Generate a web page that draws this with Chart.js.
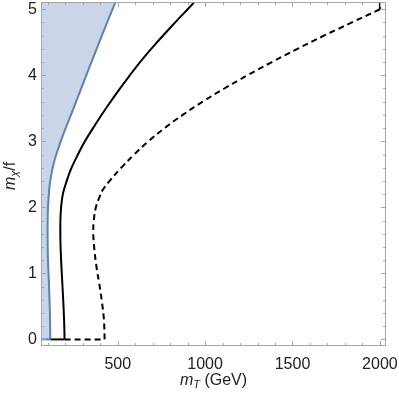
<!DOCTYPE html>
<html><head><meta charset="utf-8">
<script src="https://cdn.jsdelivr.net/npm/chart.js@4"></script>
<style>html,body{margin:0;padding:0;background:#fff;overflow:hidden}#wrap{width:399px;height:395px}</style>
</head><body><div id="wrap"><canvas id="c" width="399" height="395"></canvas></div>
<script>
const X_TICKS = [500, 1000, 1500, 2000];
const Y_TICKS = [0, 1, 2, 3, 4, 5];

const BLUE_X = [114, 112, 107, 101, 99, 99, 102, 109, 120, 137, 161, 188, 247, 320, 394, 470, 504];
const BLUE_Y = [0, 0.4, 0.8, 1.2, 1.5, 1.8, 2.05, 2.3, 2.5, 2.7, 2.9, 3.1, 3.5, 4.0, 4.5, 5.0, 5.2];

const SOLID_X = [196, 193, 188, 182, 176, 172, 172, 176, 186, 208, 236, 272, 312, 371, 433, 499, 569, 643, 725, 811, 900, 972];
const SOLID_Y = [0, 0.3, 0.6, 0.9, 1.2, 1.5, 1.8, 2.0, 2.2, 2.4, 2.6, 2.8, 3.0, 3.25, 3.5, 3.75, 4.0, 4.25, 4.5, 4.75, 5.0, 5.2];

const DASHED_X = [425, 421, 410, 394, 380, 367, 360, 363, 375, 395, 416, 454, 520, 594, 676, 768, 872, 986, 1110, 1242, 1382, 1528, 1680, 1840, 2000, 2000];
const DASHED_Y = [0, 0.3, 0.56, 0.85, 1.07, 1.35, 1.6, 1.8, 2.0, 2.15, 2.27, 2.4, 2.6, 2.8, 3.0, 3.2, 3.4, 3.6, 3.8, 4.0, 4.2, 4.4, 4.6, 4.8, 5.0, 5.2];

const X_MIN = 61, X_MAX = 2035, Y_MIN = -0.1, Y_MAX = 5.11;

const pts = (xs, ys) => xs.map((x, i) => ({x, y: ys[i]}));
const BLUE = '#5E81B5';
const FONT = '"Liberation Sans", Arial, sans-serif';

const fillPlugin = {
  id: 'regionFill',
  beforeDatasetsDraw(chart) {
    const {ctx, chartArea: a} = chart;
    const xs = chart.scales.x, ys = chart.scales.y;
    ctx.save();
    ctx.beginPath(); ctx.rect(a.left, a.top, a.right - a.left, a.bottom - a.top); ctx.clip();
    ctx.beginPath();
    ctx.moveTo(xs.getPixelForValue(X_MIN - 50), ys.getPixelForValue(0));
    BLUE_X.forEach((x, i) => ctx.lineTo(xs.getPixelForValue(x), ys.getPixelForValue(BLUE_Y[i])));
    ctx.lineTo(xs.getPixelForValue(X_MIN - 50), ys.getPixelForValue(BLUE_Y[BLUE_Y.length - 1]));
    ctx.closePath();
    ctx.fillStyle = 'rgba(94,129,181,0.33)';
    ctx.fill();
    ctx.restore();
  }
};

function drawParts(ctx, parts, cx, by) {
  let w = 0;
  parts.forEach(p => { ctx.font = p.f; p.w = ctx.measureText(p.t).width; w += p.w; });
  let x = cx - w / 2;
  parts.forEach(p => { ctx.font = p.f; ctx.fillText(p.t, x, by + p.dy); x += p.w; });
}

const framePlugin = {
  id: 'frame',
  afterDraw(chart) {
    const {ctx, chartArea: a} = chart;
    const xs = chart.scales.x, ys = chart.scales.y;
    ctx.save();
    ctx.strokeStyle = '#a6a6a6';
    ctx.lineWidth = 1;
    ctx.strokeRect(a.left + 0.5, a.top + 0.5, a.right - a.left - 1, a.bottom - a.top - 1);
    ctx.beginPath();
    for (let v = 100; v <= X_MAX; v += 100) {
      if (v < X_MIN) continue;
      const len = (v % 500 === 0) ? 5 : 3;
      const px = Math.round(xs.getPixelForValue(v)) + 0.5;
      ctx.moveTo(px, a.bottom); ctx.lineTo(px, a.bottom - len);
      ctx.moveTo(px, a.top); ctx.lineTo(px, a.top + len);
    }
    for (let k = 0; k <= 25; k++) {
      const v = k * 0.2;
      const len = (k % 5 === 0) ? 5 : 3;
      const py = Math.round(ys.getPixelForValue(v)) + 0.5;
      ctx.moveTo(a.left, py); ctx.lineTo(a.left + len, py);
      ctx.moveTo(a.right, py); ctx.lineTo(a.right - len, py);
    }
    ctx.stroke();

    ctx.fillStyle = '#222';
    ctx.textBaseline = 'alphabetic';
    drawParts(ctx, [
      {t: 'm', f: 'italic 16px ' + FONT, dy: 0},
      {t: 'T', f: 'italic 11px ' + FONT, dy: 3},
      {t: ' (GeV)', f: '16px ' + FONT, dy: 0}
    ], (a.left + a.right) / 2, 384.5);
    ctx.translate(15, (a.top + a.bottom) / 2 + 2);
    ctx.rotate(-Math.PI / 2);
    drawParts(ctx, [
      {t: 'm', f: 'italic 16px ' + FONT, dy: 0},
      {t: 'χ', f: 'italic 11px ' + FONT, dy: 3},
      {t: '/f', f: '16px ' + FONT, dy: 0}
    ], 0, 0);
    ctx.restore();
  }
};

const lineDs = (data, color, dash, tension) => ({
  data, showLine: true, borderColor: color, borderWidth: 2, borderDash: dash || [],
  pointRadius: 0, tension: tension || 0, fill: false, borderCapStyle: 'butt'
});

const noPad = s => { s.paddingLeft = 0; s.paddingRight = 0; s.paddingTop = 0; s.paddingBottom = 0; };

const nD = DASHED_X.length;
new Chart(document.getElementById('c'), {
  type: 'scatter',
  data: {
    datasets: [
      lineDs([{x: X_MIN - 50, y: 0}, {x: BLUE_X[0], y: BLUE_Y[0]}], BLUE),
      lineDs(pts(BLUE_X, BLUE_Y), BLUE, null, 0.4),
      lineDs([{x: BLUE_X[0], y: 0}, {x: SOLID_X[0], y: SOLID_Y[0]}], '#000'),
      lineDs(pts(SOLID_X, SOLID_Y), '#000', null, 0.4),
      lineDs([{x: SOLID_X[0], y: 0}, {x: DASHED_X[0], y: DASHED_Y[0]}], '#000', [6, 4]),
      lineDs(pts(DASHED_X.slice(0, nD - 1), DASHED_Y.slice(0, nD - 1)), '#000', [6, 4], 0.4),
      lineDs(pts(DASHED_X.slice(nD - 2), DASHED_Y.slice(nD - 2)), '#000')
    ]
  },
  options: {
    responsive: false, animation: false, devicePixelRatio: 1,
    layout: {padding: {left: 0, right: 13, top: 2, bottom: 0}},
    plugins: {legend: {display: false}, tooltip: {enabled: false}},
    scales: {
      x: {
        type: 'linear', min: X_MIN, max: X_MAX,
        grid: {display: false, drawTicks: false}, border: {display: false},
        ticks: {font: {family: FONT, size: 16}, color: '#222', padding: 9, maxRotation: 0, autoSkip: false,
                callback: v => String(v)},
        afterBuildTicks: s => { s.ticks = X_TICKS.map(v => ({value: v})); },
        afterFit: s => { s.height = 49; noPad(s); }
      },
      y: {
        type: 'linear', min: Y_MIN, max: Y_MAX,
        grid: {display: false, drawTicks: false}, border: {display: false},
        ticks: {font: {family: FONT, size: 16}, color: '#222', padding: 4, autoSkip: false,
                callback: v => String(v)},
        afterBuildTicks: s => { s.ticks = Y_TICKS.map(v => ({value: v})); },
        afterFit: s => { s.width = 41; noPad(s); }
      }
    }
  },
  plugins: [fillPlugin, framePlugin]
});
</script></body></html>
